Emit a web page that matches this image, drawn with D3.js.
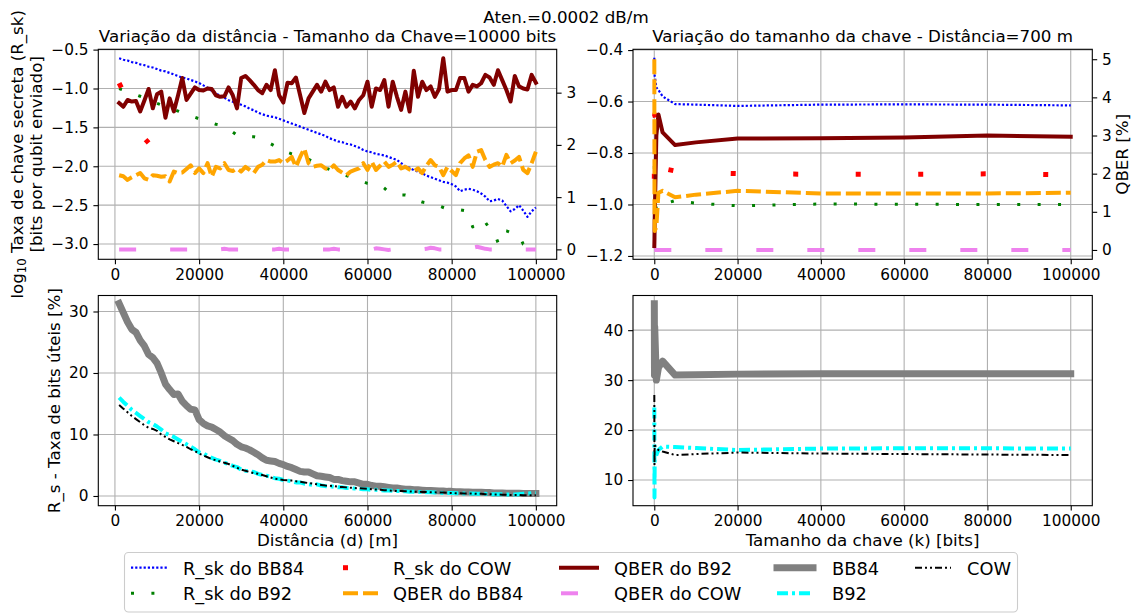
<!DOCTYPE html>
<html>
<head>
<meta charset="utf-8">
<title>Aten.=0.0002 dB/m</title>
<script src="https://d3js.org/d3.v7.min.js"></script>
<style>
  body { margin: 0; background: #fff; }
  svg text { font-family: "DejaVu Sans", sans-serif; fill: #000; }
</style>
</head>
<body>
<svg width="1132" height="614"></svg>
<script>
// ---- dados: variação da distância (tamanho da chave = 10000 bits) ----
var distancias = [1000,2000,3000,4000,5000,6000,7000,8000,9000,10000,
  11000,12000,13000,14000,15000,16000,17000,18000,19000,20000,
  21000,22000,23000,24000,25000,26000,27000,28000,29000,30000,
  31000,32000,33000,34000,35000,36000,37000,38000,39000,40000,
  41000,42000,43000,44000,45000,46000,47000,48000,49000,50000,
  51000,52000,53000,54000,55000,56000,57000,58000,59000,60000,
  61000,62000,63000,64000,65000,66000,67000,68000,69000,70000,
  71000,72000,73000,74000,75000,76000,77000,78000,79000,80000,
  81000,82000,83000,84000,85000,86000,87000,88000,89000,90000,
  91000,92000,93000,94000,95000,96000,97000,98000,99000,100000];

var rskBB84Dist = [-0.61,-0.63,-0.64,-0.66,-0.67,-0.69,-0.70,-0.72,-0.73,-0.75,
  -0.77,-0.78,-0.80,-0.82,-0.84,-0.86,-0.87,-0.89,-0.91,-0.93,
  -0.96,-0.99,-1.03,-1.06,-1.10,-1.12,-1.15,-1.17,-1.19,-1.21,
  -1.23,-1.26,-1.28,-1.31,-1.33,-1.35,-1.36,-1.37,-1.39,-1.41,
  -1.43,-1.45,-1.47,-1.49,-1.51,-1.53,-1.55,-1.57,-1.59,-1.61,
  -1.64,-1.66,-1.68,-1.69,-1.71,-1.72,-1.74,-1.76,-1.79,-1.81,
  -1.82,-1.84,-1.85,-1.86,-1.88,-1.90,-1.92,-1.96,-2.00,-2.02,
  -2.05,-2.07,-2.09,-2.12,-2.14,-2.16,-2.18,-2.20,-2.21,-2.23,
  -2.26,-2.32,-2.30,-2.29,-2.30,-2.32,-2.35,-2.39,-2.45,-2.44,
  -2.42,-2.44,-2.51,-2.58,-2.55,-2.50,-2.57,-2.65,-2.58,-2.53];

var rskB92Dist = [-1.00,-1.02,-1.04,-1.06,-1.08,-1.10,-1.12,-1.15,-1.17,-1.19,
  -1.21,-1.23,-1.25,-1.27,-1.29,-1.31,-1.33,-1.35,-1.37,-1.39,
  -1.41,-1.43,-1.44,-1.46,-1.47,-1.49,-1.52,-1.56,-1.60,-1.62,
  -1.62,-1.62,-1.62,-1.63,-1.66,-1.68,-1.71,-1.74,-1.77,-1.80,
  -1.82,-1.84,-1.85,-1.86,-1.88,-1.91,-1.94,-1.97,-2.00,-2.02,
  -2.04,-2.06,-2.08,-2.10,-2.12,-2.14,-2.16,-2.18,-2.20,-2.22,
  -2.23,-2.23,-2.24,-2.28,-2.33,-2.35,-2.36,-2.37,-2.37,-2.39,
  -2.41,-2.44,-2.46,-2.47,-2.48,-2.50,-2.51,-2.53,-2.55,-2.55,
  -2.56,-2.56,-2.57,-2.62,-2.78,-2.72,-2.67,-2.72,-2.80,-2.84,
  -2.98,-2.82,-2.83,-2.85,-2.87,-2.89,-3.00,-3.02,-3.05,-3.06];

// R_sk do COW: só existe nos primeiros pontos
var distCOW = [1000,2000,3000,4000,5000,6000,7000,8000];
var rskCOWDist = [-0.93,-1.04,-1.16,-1.28,-1.40,-1.52,-1.64,-1.70];

var qberBB84Dist = [1.42,1.40,1.33,1.38,1.42,1.46,1.36,1.33,1.42,1.41,
  1.39,1.40,1.30,1.49,1.46,1.47,1.54,1.61,1.46,1.55,
  1.46,1.65,1.39,1.58,1.55,1.65,1.52,1.50,1.55,1.49,
  1.58,1.52,1.46,1.58,1.62,1.71,1.68,1.68,1.71,1.65,
  1.70,1.77,1.58,1.77,1.93,1.65,1.58,1.60,1.61,1.55,
  1.52,1.61,1.52,1.47,1.42,1.49,1.52,1.55,1.65,1.52,
  1.68,1.52,1.60,1.68,1.58,1.62,1.68,1.55,1.58,1.53,
  1.49,1.55,1.46,1.60,1.71,1.61,1.58,1.42,1.58,1.50,
  1.42,1.65,1.74,1.80,1.58,1.87,1.90,1.71,1.58,1.62,
  1.65,1.58,1.81,1.65,1.70,1.77,1.52,1.46,1.65,1.87];

var qberB92Dist = [2.80,2.73,2.86,2.83,2.84,2.64,2.85,3.07,2.70,2.97,
  3.02,2.52,2.89,2.64,2.95,3.28,2.86,2.98,3.10,3.05,
  3.04,3.08,3.07,2.95,2.92,2.93,3.10,2.95,2.70,3.28,
  3.32,3.24,3.15,3.05,2.99,3.15,3.05,3.43,2.95,2.81,
  3.19,3.18,3.29,2.95,2.61,2.89,3.02,3.15,3.02,3.21,
  3.05,3.10,2.73,2.92,2.73,2.83,2.70,2.86,2.95,3.21,
  2.73,3.08,3.05,3.24,2.73,3.21,2.92,2.67,3.02,2.64,
  3.42,2.92,3.21,3.05,3.12,2.92,3.07,3.66,3.02,3.05,
  3.05,3.28,3.28,3.02,3.15,3.12,3.18,3.34,3.29,3.15,
  3.43,3.24,3.05,2.83,3.32,3.12,3.08,3.06,3.34,3.19];

var qberCOWDist = [0,0,0,0,0,0,0,0,0,0,
  0,0,0,0,0,0,0,0,0,0,
  0,0,0,0,0,0.01,0,0,0,0,
  0,0,0,0,0,0,0,0,0.01,0,
  0,0,0,0,0,0,0,0,0,0,
  0,0.01,0,0,0,0,0,0,0,0,
  0,0.02,0.01,0,-0.01,0,0,0,0,0,
  0,0,0,0.01,0.03,0.02,0,0,0,0,
  0,0,0,0.01,0.03,0.05,0.03,0.01,0,0,
  0,0,0,0,0,0,0,0,0,0];

var rsBB84Dist = [31.3,29.8,28.3,27.1,26.6,25.3,24.4,23.0,22.5,21.6,
  20.0,18.2,17.3,16.5,16.6,15.4,14.7,14.1,14.0,12.4,
  11.8,11.4,11.2,10.8,10.4,9.8,9.4,9.0,8.4,8.0,
  7.8,7.5,7.1,6.7,6.2,5.8,5.7,5.6,5.3,5.1,
  4.8,4.6,4.3,4.0,3.9,3.9,3.6,3.3,3.2,3.1,
  3.0,2.7,2.7,2.5,2.4,2.3,2.3,2.1,1.9,1.9,
  1.7,1.6,1.6,1.5,1.4,1.3,1.3,1.2,1.1,1.1,
  1.0,1.0,0.95,0.9,0.9,0.85,0.8,0.8,0.75,0.75,
  0.7,0.7,0.65,0.65,0.6,0.6,0.6,0.55,0.55,0.5,
  0.5,0.5,0.45,0.45,0.45,0.45,0.4,0.4,0.4,0.4];

var rsB92Dist = [16.0,15.3,14.7,14.0,13.5,13.0,12.5,12.0,11.7,11.3,
  10.8,10.2,9.9,9.6,9.2,8.8,8.4,8.0,7.6,7.1,
  6.9,6.5,6.2,5.9,5.7,5.4,5.2,4.9,4.7,4.3,
  4.1,4.0,3.9,3.6,3.4,3.3,3.1,2.9,2.8,2.6,
  2.5,2.4,2.2,2.2,2.0,1.9,1.8,1.9,1.7,1.6,
  1.6,1.5,1.4,1.4,1.3,1.3,1.2,1.2,1.1,1.1,
  1.0,1.0,0.95,0.9,0.9,0.85,0.8,0.8,0.75,0.7,
  0.7,0.65,0.65,0.6,0.6,0.55,0.55,0.5,0.5,0.5,
  0.45,0.45,0.4,0.4,0.4,0.35,0.35,0.35,0.3,0.3,
  0.3,0.3,0.25,0.25,0.25,0.3,0.35,0.4,0.45,0.45];

var rsCOWDist = [14.8,14.2,13.6,13.0,12.5,12.0,11.5,11.1,10.9,10.6,
  10.0,9.6,9.2,8.9,8.6,8.3,8.0,7.6,7.3,6.9,
  6.6,6.3,6.0,5.8,5.6,5.4,5.2,4.9,4.6,4.3,
  4.1,3.9,3.7,3.6,3.4,3.2,3.0,2.8,2.7,2.6,
  2.55,2.5,2.4,2.3,2.2,2.1,2.0,1.9,1.8,1.7,
  1.65,1.6,1.5,1.45,1.4,1.35,1.3,1.25,1.2,1.15,
  1.1,1.05,1.0,0.95,0.9,0.85,0.8,0.8,0.75,0.75,
  0.7,0.7,0.65,0.65,0.6,0.6,0.55,0.55,0.5,0.5,
  0.45,0.45,0.4,0.4,0.4,0.35,0.35,0.3,0.3,0.25,
  0.25,0.2,0.2,0.15,0.15,0.15,0.1,0.1,0.1,0.1];

// ---- dados: variação do tamanho da chave (distância = 700 m) ----
var tamanhos = [10,50,100,500,1000,2000,5000,10000,20000,40000,60000,80000,100000];
var rskBB84Tam = [-0.43,-0.47,-0.50,-0.545,-0.555,-0.58,-0.61,-0.612,-0.617,-0.612,-0.611,-0.612,-0.615];
var rskB92Tam  = [-0.85,-0.90,-0.95,-1.02,-1.02,-1.00,-0.985,-0.995,-1.005,-0.998,-0.999,-1.00,-1.00];
var rskCOWTam  = [-0.90,-0.75,-0.65,-0.68,-0.78,-0.86,-0.87,-0.875,-0.88,-0.883,-0.883,-0.881,-0.885];
var qberBB84Tam = [5.0,1.2,0.5,0.6,1.5,1.55,1.38,1.45,1.55,1.48,1.48,1.48,1.50];
var qberB92Tam  = [0.1,0.3,0.8,3.0,3.55,3.08,2.75,2.82,2.92,2.93,2.95,3.00,2.97];
var qberCOWTam  = [0,0,0,0,0,0,0,0,0,0,0,0,0];
var rsBB84Tam = [45.3,31.0,40.7,30.0,32.5,33.8,31.0,31.05,31.2,31.3,31.3,31.3,31.3];
var rsB92Tam  = [24.5,6.5,14.0,15.0,16.0,16.7,16.6,16.4,16.0,16.3,16.35,16.35,16.3];
var rsCOWTam  = [27.0,13.0,17.0,16.5,16.0,15.7,15.0,15.2,15.5,15.3,15.2,15.1,15.0];

// ---- ticks e textos ----
var xTicks = [0,20000,40000,60000,80000,100000];
var yTicksTL = [-3.0,-2.5,-2.0,-1.5,-1.0,-0.5];
var yTicksTL2 = [0,1,2,3];
var yTicksTR = [-1.2,-1.0,-0.8,-0.6,-0.4];
var yTicksTR2 = [0,1,2,3,4,5];
var yTicksBL = [0,10,20,30];
var yTicksBR = [10,20,30,40];

var legendas = ["R_sk do BB84","R_sk do B92","R_sk do COW","QBER do BB84","QBER do B92",
                "QBER do COW","BB84","B92","COW"];

// ---- estilos ----
var estilos = {
  rskBB84:  {cor:"#0000ff", w:2.2, dash:"2.2 2"},
  rskB92:   {cor:"#008000", w:3,   dash:"3 17.4"},
  rskCOW:   {cor:"#ff0000", w:5,   dash:"5 57.5"},
  qberBB84: {cor:"#ffa500", w:4,   dash:"15 5"},
  qberB92:  {cor:"#800000", w:4,   dash:null},
  qberCOW:  {cor:"#ee82ee", w:4,   dash:"17 34"},
  BB84:     {cor:"#808080", w:7,   dash:null},
  B92:      {cor:"#00ffff", w:4,   dash:"11 4 3 4"},
  COW:      {cor:"#000000", w:2,   dash:"7 3 2 3 2 3"}
};
var ordemLegenda = ["rskBB84","rskB92","rskCOW","qberBB84","qberB92","qberCOW","BB84","B92","COW"];

var svg = d3.select("svg");
var fsTick = 15.3, fsLabel = 16.7, fsLeg = 17.8;
var nClip = 0;

function painel(c, xDom, yDom, yTicks, yFmt) {
  var p = {c: c};
  p.x = d3.scaleLinear().domain(xDom).range([c.l, c.r]);
  p.y = d3.scaleLinear().domain(yDom).range([c.b, c.t]);
  p.clip = "clip" + (nClip++);
  svg.append("clipPath").attr("id", p.clip).append("rect")
    .attr("x", c.l).attr("y", c.t).attr("width", c.r - c.l).attr("height", c.b - c.t);
  var grid = svg.append("g").attr("stroke", "#b0b0b0").attr("stroke-width", 1.1);
  grid.selectAll(".gx").data(xTicks).enter().append("line")
    .attr("x1", d => p.x(d)).attr("x2", d => p.x(d)).attr("y1", c.t).attr("y2", c.b);
  grid.selectAll(".gy").data(yTicks).enter().append("line")
    .attr("y1", d => p.y(d)).attr("y2", d => p.y(d)).attr("x1", c.l).attr("x2", c.r);
  p.g = svg.append("g").attr("clip-path", "url(#" + p.clip + ")");
  p.yTicks = yTicks; p.yFmt = yFmt;
  return p;
}

function estiloEixo(a) {
  a.select(".domain").remove();
  a.attr("font-family", null).attr("font-size", null);
  a.selectAll("line").attr("stroke", "#000").attr("stroke-width", 1.1);
  a.selectAll("text").attr("font-size", fsTick + "px").attr("fill", "#000");
}

function moldura(p) {
  var c = p.c;
  estiloEixo(svg.append("g").attr("transform", "translate(0," + c.b + ")")
    .call(d3.axisBottom(p.x).tickValues(xTicks).tickFormat(d3.format("d"))
      .tickSize(4.9).tickPadding(4.9).tickSizeOuter(0)));
  estiloEixo(svg.append("g").attr("transform", "translate(" + c.l + ",0)")
    .call(d3.axisLeft(p.y).tickValues(p.yTicks).tickFormat(p.yFmt)
      .tickSize(4.9).tickPadding(4.9).tickSizeOuter(0)));
  svg.append("rect").attr("x", c.l).attr("y", c.t).attr("width", c.r - c.l).attr("height", c.b - c.t)
    .attr("fill", "none").attr("stroke", "#000").attr("stroke-width", 1.1);
}

function eixoDireito(p, y2, ticks) {
  estiloEixo(svg.append("g").attr("transform", "translate(" + p.c.r + ",0)")
    .call(d3.axisRight(y2).tickValues(ticks).tickFormat(d3.format("d"))
      .tickSize(4.9).tickPadding(4.9).tickSizeOuter(0)));
}

function serie(g, x, y, xs, ys, nome) {
  var e = estilos[nome];
  var pts = xs.map((v, i) => [v, ys[i]]);
  g.append("path").datum(pts)
    .attr("d", d3.line().x(d => x(d[0])).y(d => y(d[1])))
    .attr("fill", "none").attr("stroke", e.cor).attr("stroke-width", e.w)
    .attr("stroke-dasharray", e.dash)
    .attr("stroke-linejoin", "round")
    .attr("stroke-linecap", e.dash ? "butt" : "square");
}

var f1 = d3.format(".1f");

// ---- superior esquerdo ----
var tl = painel({l:98.3, r:556.7, t:49.3, b:259.3}, [-3950, 104950], [-3.196, -0.496], yTicksTL, f1);
var tl2 = d3.scaleLinear().domain([-0.19, 3.83]).range([259.3, 49.3]);
serie(tl.g, tl.x, tl.y, distancias, rskBB84Dist, "rskBB84");
serie(tl.g, tl.x, tl.y, distancias, rskB92Dist, "rskB92");
serie(tl.g, tl.x, tl.y, distCOW, rskCOWDist, "rskCOW");
var tlg2 = svg.append("g").attr("clip-path", "url(#" + tl.clip + ")");
serie(tlg2, tl.x, tl2, distancias, qberB92Dist, "qberB92");
serie(tlg2, tl.x, tl2, distancias, qberBB84Dist, "qberBB84");
serie(tlg2, tl.x, tl2, distancias, qberCOWDist, "qberCOW");
moldura(tl);
eixoDireito(tl, tl2, yTicksTL2);

// ---- superior direito ----
var tr = painel({l:633, r:1092.3, t:49.3, b:259.3}, [-5110, 105180], [-1.213, -0.397], yTicksTR, f1);
var tr2 = d3.scaleLinear().domain([-0.245, 5.26]).range([259.3, 49.3]);
serie(tr.g, tr.x, tr.y, tamanhos, rskBB84Tam, "rskBB84");
serie(tr.g, tr.x, tr.y, tamanhos, rskB92Tam, "rskB92");
serie(tr.g, tr.x, tr.y, tamanhos, rskCOWTam, "rskCOW");
var trg2 = svg.append("g").attr("clip-path", "url(#" + tr.clip + ")");
serie(trg2, tr.x, tr2, tamanhos, qberB92Tam, "qberB92");
serie(trg2, tr.x, tr2, tamanhos, qberBB84Tam, "qberBB84");
serie(trg2, tr.x, tr2, tamanhos, qberCOWTam, "qberCOW");
moldura(tr);
eixoDireito(tr, tr2, yTicksTR2);

// ---- inferior esquerdo ----
var bl = painel({l:98.3, r:556.7, t:295.5, b:505.7}, [-3950, 104950], [-1.58, 32.6], yTicksBL, d3.format("d"));
serie(bl.g, bl.x, bl.y, distancias, rsBB84Dist, "BB84");
serie(bl.g, bl.x, bl.y, distancias, rsB92Dist, "B92");
serie(bl.g, bl.x, bl.y, distancias, rsCOWDist, "COW");
moldura(bl);

// ---- inferior direito ----
var br = painel({l:633, r:1092.3, t:295.5, b:505.7}, [-5110, 105180], [4.86, 46.94], yTicksBR, d3.format("d"));
serie(br.g, br.x, br.y, tamanhos, rsBB84Tam, "BB84");
serie(br.g, br.x, br.y, tamanhos, rsB92Tam, "B92");
serie(br.g, br.x, br.y, tamanhos, rsCOWTam, "COW");
moldura(br);

// ---- textos ----
function texto(x, y, s, fs, rot) {
  var t = svg.append("text").attr("text-anchor", "middle").attr("font-size", fs + "px");
  if (rot) t.attr("transform", "translate(" + x + "," + y + ") rotate(-90)");
  else t.attr("x", x).attr("y", y);
  t.text(s);
  return t;
}
texto(566, 22.5, "Aten.=0.0002 dB/m", fsLabel);
texto(327.5, 41.7, "Variação da distância - Tamanho da Chave=10000 bits", fsLabel);
texto(862.6, 41.7, "Variação do tamanho da chave - Distância=700 m", fsLabel);
texto(327.5, 546, "Distância (d) [m]", fsLabel);
texto(862.6, 546, "Tamanho da chave (k) [bits]", fsLabel);
texto(60.2, 400.6, "R_s - Taxa de bits úteis [%]", fsLabel, true);
texto(1127.6, 154.3, "QBER [%]", fsLabel, true);
texto(42.2, 154.3, "[bits por qubit enviado]", fsLabel, true);
var yl = svg.append("text").attr("text-anchor", "middle").attr("font-size", fsLabel + "px")
  .attr("transform", "translate(22.8,154.3) rotate(-90)");
yl.append("tspan").text("log");
yl.append("tspan").attr("font-size", "11.7px").attr("dy", 3.6).text("10");
yl.append("tspan").attr("dy", -3.6).text(" Taxa de chave secreta (R_sk)");

// ---- legenda ----
var legCol = [131, 343, 561, 777, 915];
var legTxt = [183, 393, 614, 832, 967];
var legRow = [567.7, 593.3];
svg.append("rect").attr("x", 124.5).attr("y", 552.5).attr("width", 893).attr("height", 59.5)
  .attr("rx", 4).attr("fill", "#fff").attr("fill-opacity", 0.8)
  .attr("stroke", "#cccccc").attr("stroke-width", 1.1);
ordemLegenda.forEach(function(nome, i) {
  var col = Math.floor(i / 2), row = i % 2, e = estilos[nome];
  svg.append("line").attr("x1", legCol[col]).attr("x2", legCol[col] + 36)
    .attr("y1", legRow[row]).attr("y2", legRow[row])
    .attr("stroke", e.cor).attr("stroke-width", e.w).attr("stroke-dasharray", e.dash)
    .attr("stroke-linecap", e.dash ? "butt" : "square");
  svg.append("text").attr("x", legTxt[col]).attr("y", legRow[row] + 7)
    .attr("font-size", fsLeg + "px").text(legendas[i]);
});
</script>
</body>
</html>
